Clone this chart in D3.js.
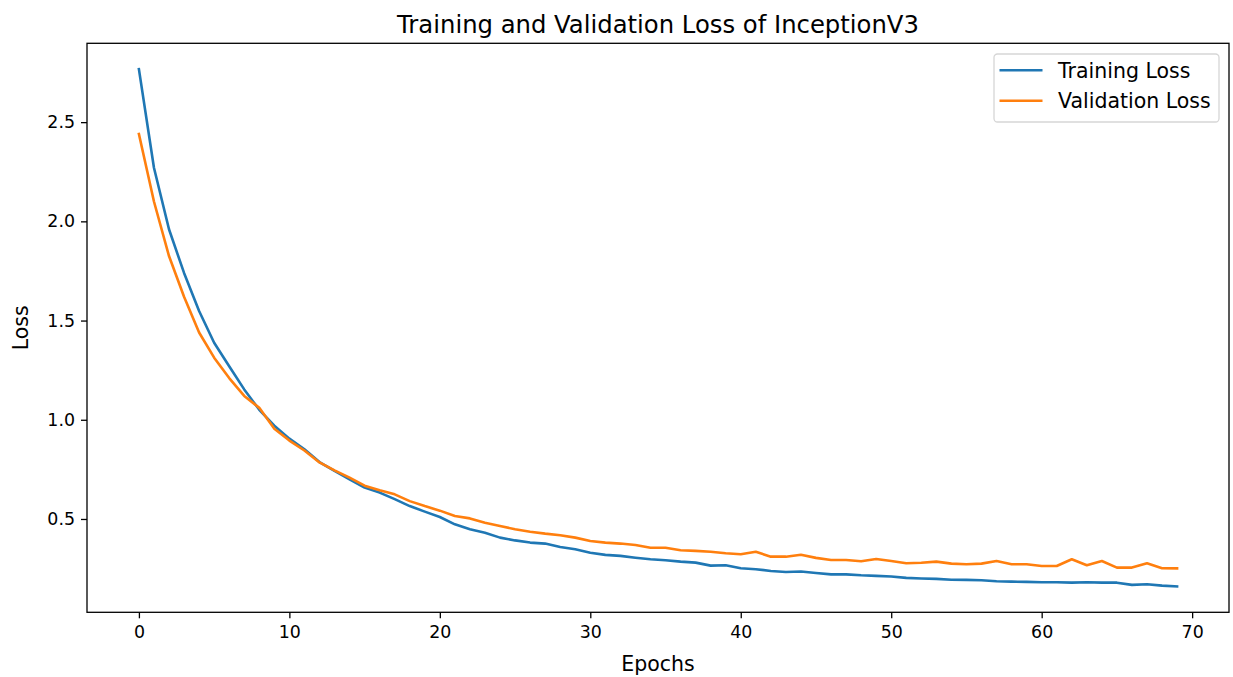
<!DOCTYPE html>
<html>
<head>
<meta charset="utf-8">
<script src="https://cdn.jsdelivr.net/npm/d3@7"></script>
<style>
  html, body { margin: 0; padding: 0; background: #fff; }
  svg { display: block; }
  text { font-family: "DejaVu Sans", sans-serif; fill: #000; }
</style>
</head>
<body>
<svg id="chart" width="1233" height="677"></svg>
<script>
const epochs = d3.range(0, 70);
const trainingLoss = [
  2.767, 2.27, 1.96, 1.74, 1.548, 1.388, 1.27, 1.153, 1.05, 0.97,
  0.905, 0.851, 0.787, 0.742, 0.70, 0.658, 0.633, 0.60, 0.565, 0.537,
  0.51, 0.473, 0.448, 0.431, 0.406, 0.392, 0.381, 0.376, 0.359, 0.347,
  0.33, 0.319, 0.314, 0.305, 0.297, 0.292, 0.285, 0.28, 0.265, 0.267,
  0.252, 0.247, 0.238, 0.233, 0.235, 0.228, 0.221, 0.221, 0.216, 0.213,
  0.21, 0.203, 0.2, 0.198, 0.194, 0.193, 0.191, 0.186, 0.184, 0.183,
  0.181, 0.181, 0.179, 0.181, 0.179, 0.179, 0.168, 0.171, 0.164, 0.16
];
const validationLoss = [
  2.44, 2.10, 1.825, 1.62, 1.44, 1.313, 1.21, 1.12, 1.06, 0.955,
  0.895, 0.845, 0.785, 0.745, 0.708, 0.668, 0.645, 0.624, 0.59, 0.565,
  0.542, 0.515, 0.503, 0.481, 0.465, 0.448, 0.436, 0.426, 0.418, 0.406,
  0.389, 0.381, 0.376, 0.369, 0.355, 0.355, 0.342, 0.339, 0.335, 0.327,
  0.322, 0.335, 0.31, 0.31, 0.32, 0.304, 0.293, 0.293, 0.287, 0.298,
  0.288, 0.277, 0.279, 0.285, 0.275, 0.272, 0.275, 0.288, 0.272, 0.272,
  0.263, 0.263, 0.297, 0.267, 0.288, 0.255, 0.255, 0.277, 0.252, 0.251
];
const xTicks = [0, 10, 20, 30, 40, 50, 60, 70];
const yTicks = [0.5, 1.0, 1.5, 2.0, 2.5];
const seriesNames = ["Training Loss", "Validation Loss"];
const seriesColors = ["#1f77b4", "#ff7f0e"];

const svg = d3.select("#chart");
const pLeft = 87, pRight = 1229, pTop = 43.3, pBottom = 612.3;

const xmin = d3.min(epochs), xmax = d3.max(epochs);
const xpad = (xmax - xmin) * 0.05;
const x = d3.scaleLinear().domain([xmin - xpad, xmax + xpad]).range([pLeft, pRight]);

const allY = trainingLoss.concat(validationLoss);
const ymin = d3.min(allY), ymax = d3.max(allY);
const ypad = (ymax - ymin) * 0.05;
const y = d3.scaleLinear().domain([ymin - ypad, ymax + ypad]).range([pBottom, pTop]);

// lines
const series = [trainingLoss, validationLoss];
const line = d3.line().x((d, i) => x(epochs[i])).y(d => y(d));
const plot = svg.append("g");
series.forEach((s, k) => {
  plot.append("path")
    .datum(s)
    .attr("d", line)
    .attr("fill", "none")
    .attr("stroke", seriesColors[k])
    .attr("stroke-width", 2.6)
    .attr("stroke-linejoin", "round")
    .attr("stroke-linecap", "square");
});

// axes
const xAxis = d3.axisBottom(x).tickValues(xTicks).tickFormat(d3.format("d")).tickSizeOuter(0).tickSize(6).tickPadding(6);
const gx = svg.append("g").attr("transform", `translate(0,${pBottom})`).call(xAxis);
const yAxis = d3.axisLeft(y).tickValues(yTicks).tickFormat(d3.format(".1f")).tickSizeOuter(0).tickSize(6).tickPadding(6);
const gy = svg.append("g").attr("transform", `translate(${pLeft},0)`).call(yAxis);
[gx, gy].forEach(g => {
  g.select(".domain").remove();
  g.selectAll(".tick line").attr("stroke", "#000").attr("stroke-width", 1.3);
  g.selectAll(".tick text").style("font-size", "17.4px").style("font-family", "DejaVu Sans").attr("fill", "#000");
});
gx.selectAll(".tick text").attr("dy", "0.76em");

// frame
svg.append("rect")
  .attr("x", pLeft).attr("y", pTop)
  .attr("width", pRight - pLeft).attr("height", pBottom - pTop)
  .attr("fill", "none").attr("stroke", "#000").attr("stroke-width", 1.3);

// title and labels
svg.append("text")
  .attr("x", (pLeft + pRight) / 2).attr("y", 32.5)
  .attr("text-anchor", "middle")
  .style("font-size", "24.3px")
  .text("Training and Validation Loss of InceptionV3");
svg.append("text")
  .attr("x", (pLeft + pRight) / 2).attr("y", 671)
  .attr("text-anchor", "middle")
  .style("font-size", "20.5px")
  .text("Epochs");
svg.append("text")
  .attr("transform", `translate(28,${(pTop + pBottom) / 2}) rotate(-90)`)
  .attr("text-anchor", "middle")
  .style("font-size", "20.5px")
  .text("Loss");

// legend
const lg = svg.append("g");
lg.append("rect")
  .attr("x", 994).attr("y", 54)
  .attr("width", 225).attr("height", 68)
  .attr("rx", 3.5).attr("ry", 3.5)
  .attr("fill", "#fff").attr("fill-opacity", 0.8)
  .attr("stroke", "#d6d6d6").attr("stroke-width", 1.3);
seriesNames.forEach((name, k) => {
  const cy = 70.3 + k * 30.5;
  lg.append("line")
    .attr("x1", 999.5).attr("x2", 1042.5)
    .attr("y1", cy).attr("y2", cy)
    .attr("stroke", seriesColors[k]).attr("stroke-width", 2.6);
  lg.append("text")
    .attr("x", 1058).attr("y", cy)
    .attr("dy", "0.36em")
    .style("font-size", "20.5px")
    .text(name);
});
</script>
</body>
</html>
